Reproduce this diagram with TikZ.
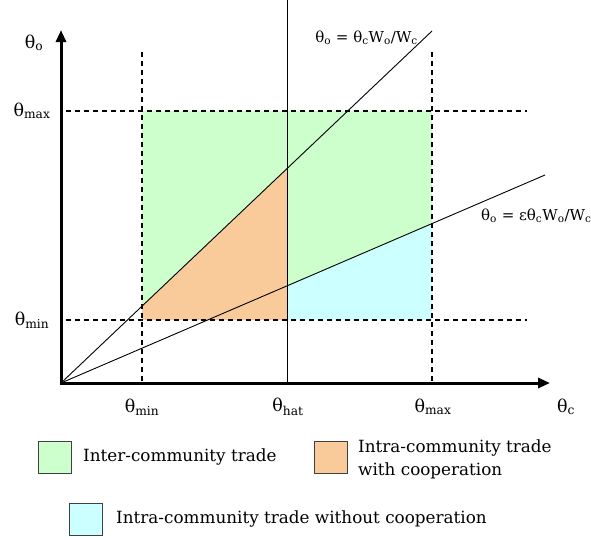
\documentclass[tikz,border=0pt]{standalone}
\usepackage{fontspec}
\setmainfont{DejaVu Serif}
\usetikzlibrary{arrows.meta}
\definecolor{interg}{HTML}{CCFFCC}
\definecolor{coop}{HTML}{FACB9A}
\definecolor{nocoop}{HTML}{CCFFFF}
\newcommand\tsub[1]{\textsubscript{#1}}
\begin{document}
\begin{tikzpicture}[x=1pt,y=-1pt,
 axis/.style={line width=3pt,-{Triangle[length=12pt,width=10pt]}},
 guide/.style={line width=1.8pt,dash pattern=on 5pt off 4pt},
 ray/.style={line width=0.9pt},
 lab/.style={font=\fontsize{17.5}{20}\selectfont,inner sep=0pt},
 eq/.style={font=\fontsize{15}{17}\selectfont,inner sep=0pt},
 key/.style={draw=black!75,line width=1pt,minimum width=33pt,minimum height=32pt,inner sep=0pt},
 legtext/.style={font=\fontsize{16.8}{23}\selectfont,inner sep=0pt,anchor=west,align=left}]
\useasboundingbox (0,0) rectangle (591,539);
\coordinate (O) at (61,383);
% regions
\fill[interg] (142,111) rectangle (432,320);
\fill[coop] (142,320) -- (142,306) -- (287,169) -- (287,320) -- cycle;
\fill[nocoop] (287,320) -- (287,286) -- (432,224) -- (432,320) -- cycle;
% guides
\coordinate (hmaxL) at (66,111); \coordinate (hmaxR) at (527,111);
\coordinate (hminL) at (66,320); \coordinate (hminR) at (527,320);
\coordinate (vminT) at (142,52); \coordinate (vminB) at (142,383);
\coordinate (vmaxT) at (432,52); \coordinate (vmaxB) at (432,383);
\coordinate (hatT) at (287,0); \coordinate (hatB) at (287,383);
\draw[guide] (hmaxL) -- (hmaxR);
\draw[guide] (hminL) -- (hminR);
\draw[guide] (vminT) -- (vminB);
\draw[guide] (vmaxT) -- (vmaxB);
\draw[line width=0.9pt] (hatT) -- (hatB);
% rays
\coordinate (r1) at (432,31);
\coordinate (r2) at (545,175);
\draw[ray] (O) -- (r1);
\draw[ray] (O) -- (r2);
% axes
\coordinate (ytip) at (61,30);
\coordinate (xtip) at (550,383);
\draw[axis] (61,384.5) -- (ytip);
\draw[axis] (59.5,383) -- (xtip);
% axis labels
\node[lab] (yl) at (34,43) {θ\tsub{o}};
\node[lab] (ymax) at (32,111) {θ\tsub{max}};
\node[lab] (ymin) at (32,320) {θ\tsub{min}};
\node[lab] (xmin) at (142,407) {θ\tsub{min}};
\node[lab] (xhat) at (288,407) {θ\tsub{hat}};
\node[lab] (xmax) at (433,407) {θ\tsub{max}};
\node[lab] (xl) at (566,407) {θ\tsub{c}};
% equations
\node[eq,anchor=east] (eq1) at (418,38) {θ\tsub{o} = θ\tsub{c}W\tsub{o}/W\tsub{c}};
\node[eq,anchor=west] (eq2) at (481,216) {θ\tsub{o} = εθ\tsub{c}W\tsub{o}/W\tsub{c}};
% legend
\node[key,fill=interg] (k1) at (54.5,457.5) {};
\node[legtext] (t1) at (83,457) {Inter-community trade};
\node[key,fill=coop] (k2) at (330.5,457.5) {};
\node[legtext] (t2) at (358,459) {Intra-community trade\\with cooperation};
\node[key,fill=nocoop] (k3) at (86,519) {};
\node[legtext] (t3) at (116,519) {Intra-community trade without cooperation};
\end{tikzpicture}
\end{document}
